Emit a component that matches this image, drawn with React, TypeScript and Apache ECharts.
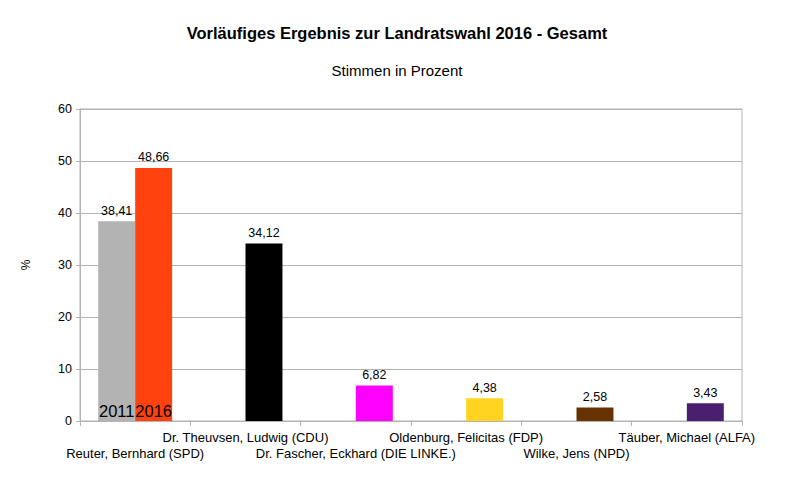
import React, { useEffect, useRef } from "react";
import * as echarts from "echarts";

const categories = [
  "Reuter, Bernhard (SPD)",
  "Dr. Theuvsen, Ludwig (CDU)",
  "Dr. Fascher, Eckhard (DIE LINKE.)",
  "Oldenburg, Felicitas (FDP)",
  "Wilke, Jens (NPD)",
  "Täuber, Michael (ALFA)",
];
const values2011 = [38.41, null, null, null, null, null];
const values2016 = [48.66, 34.12, 6.82, 4.38, 2.58, 3.43];
const colors2016 = ["#ff420e", "#000000", "#ff00ff", "#ffd320", "#663300", "#4b1f6f"];
const color2011 = "#b3b3b3";
const yTicks = { min: 0, max: 60, interval: 10 };

const fmt = (v: number) => v.toFixed(2).replace(".", ",");
const FONT = "Liberation Sans, Arial, sans-serif";

export default function App() {
  const ref = useRef<HTMLDivElement>(null);
  useEffect(() => {
    if (!ref.current) return;
    const chart = echarts.init(ref.current, null, { renderer: "svg" });
    const valueLabel = {
      show: true,
      position: "top" as const,
      distance: 4,
      color: "#000",
      fontSize: 12.5,
      fontFamily: FONT,
      formatter: (p: any) => fmt(p.value),
    };
    const yearMark = (year: string) => ({
      symbol: "rect",
      symbolSize: 1,
      itemStyle: { color: "rgba(0,0,0,0)" },
      label: {
        show: true,
        position: "inside",
        offset: [0, -10],
        color: "#000",
        fontSize: 16.5,
        fontFamily: FONT,
        formatter: year,
      },
      data: [{ coord: [categories[0], 0] }],
    });
    chart.setOption({
      animation: false,
      backgroundColor: "#fff",
      textStyle: { fontFamily: FONT },
      title: [
        {
          text: "Vorläufiges Ergebnis zur Landratswahl 2016 - Gesamt",
          left: "center",
          top: 19,
          textStyle: { fontSize: 16.5, fontWeight: "bold", color: "#000", fontFamily: FONT },
        },
        {
          text: "Stimmen in Prozent",
          left: "center",
          top: 58,
          textStyle: { fontSize: 15, fontWeight: "normal", color: "#000", fontFamily: FONT },
        },
      ],
      grid: {
        left: 80,
        right: 52,
        top: 109,
        bottom: 70,
        show: true,
        borderColor: "#b3b3b3",
        borderWidth: 1,
      },
      xAxis: {
        type: "category",
        data: categories,
        axisLine: { lineStyle: { color: "#b3b3b3", width: 1 } },
        axisTick: { show: true, length: 5, lineStyle: { color: "#b3b3b3" }, alignWithLabel: false },
        axisLabel: {
          interval: 0,
          color: "#000",
          fontSize: 13,
          fontFamily: FONT,
          lineHeight: 16,
          margin: 8,
          formatter: (v: string, i: number) => (i % 2 === 0 ? "\n" + v : v),
        },
      },
      yAxis: {
        type: "value",
        min: yTicks.min,
        max: yTicks.max,
        interval: yTicks.interval,
        name: "%",
        nameLocation: "middle",
        nameRotate: 90,
        nameGap: 48,
        nameTextStyle: { color: "#000", fontSize: 12, fontFamily: FONT },
        axisLine: { show: true, lineStyle: { color: "#b3b3b3" } },
        axisTick: { show: true, length: 4, lineStyle: { color: "#b3b3b3" } },
        axisLabel: { color: "#000", fontSize: 12.5, fontFamily: FONT, margin: 8 },
        splitLine: { lineStyle: { color: "#b3b3b3" } },
      },
      series: [
        {
          name: "2011",
          type: "bar",
          data: values2011,
          barGap: "0%",
          barCategoryGap: "33%",
          itemStyle: { color: color2011 },
          label: valueLabel,
          markPoint: yearMark("2011"),
        },
        {
          name: "2016",
          type: "bar",
          data: values2016.map((v, i) => ({ value: v, itemStyle: { color: colors2016[i] } })),
          barGap: "0%",
          barCategoryGap: "33%",
          label: valueLabel,
          markPoint: yearMark("2016"),
        },
      ],
    });
    return () => chart.dispose();
  }, []);
  return <div ref={ref} style={{ width: 794, height: 491, margin: -8 }} />;
}
